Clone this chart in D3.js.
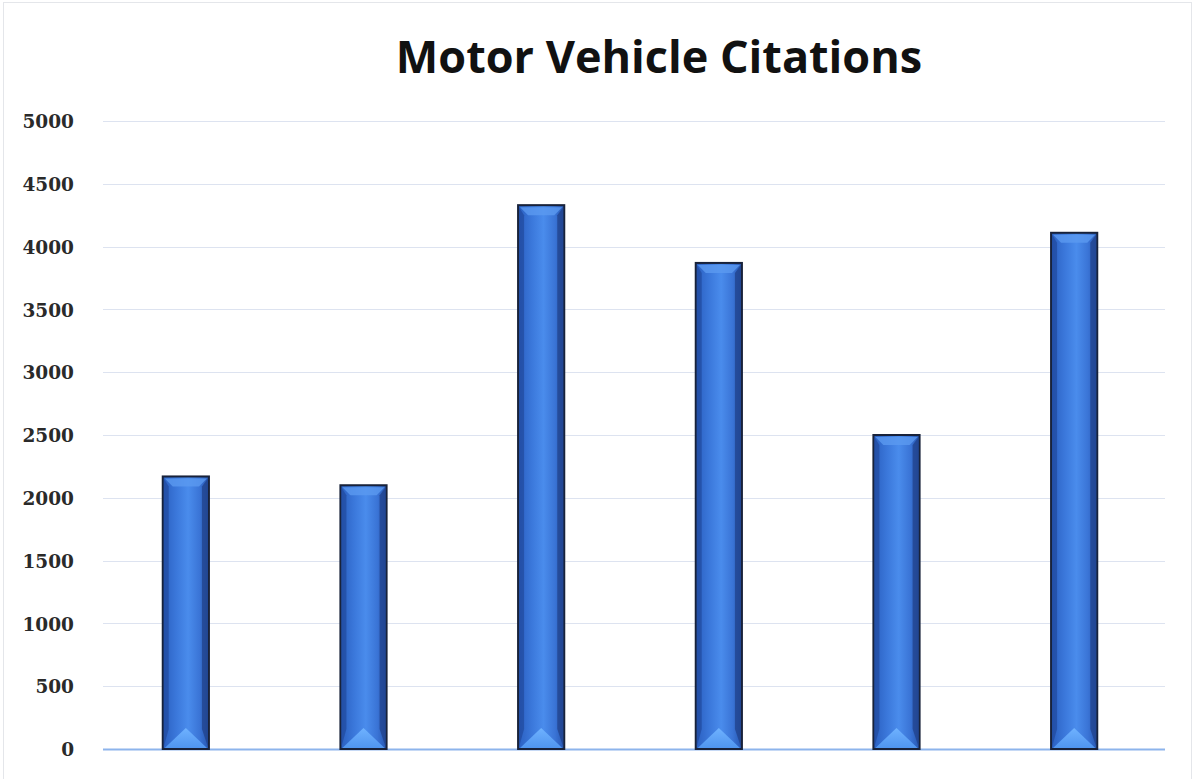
<!DOCTYPE html>
<html>
<head>
<meta charset="utf-8">
<script src="https://cdn.jsdelivr.net/npm/d3@7"></script>
<style>
  html, body { margin: 0; padding: 0; background: #fff; }
  svg { display: block; }
</style>
</head>
<body>
<svg id="chart" width="1192" height="779"></svg>
<script>
// Motor vehicle citations per period (category labels are not shown on the axis)
const categories = ["A", "B", "C", "D", "E", "F"];
const citations = [2170, 2100, 4330, 3870, 2500, 4110];
const yTicks = [0, 500, 1000, 1500, 2000, 2500, 3000, 3500, 4000, 4500, 5000];

const svg = d3.select("#chart");
const W = 1192, H = 779;
const margin = { left: 97, right: 29, top: 121, bottom: 30 };

// faint outer frame
svg.append("rect").attr("x", 3.5).attr("y", 2.5).attr("width", W - 4).attr("height", H)
  .attr("fill", "none").attr("stroke", "#e4e6ea").attr("stroke-width", 1);

const x = d3.scaleBand().domain(categories)
  .range([margin.left, W - margin.right]).paddingInner(0.74).paddingOuter(0.37);
const y = d3.scaleLinear().domain([0, 5000]).range([H - margin.bottom, margin.top]);

// gradients for the bevelled bars
const defs = svg.append("defs");
const g = defs.append("linearGradient").attr("id", "barFill").attr("x1", 0).attr("x2", 1).attr("y1", 0).attr("y2", 0);
g.append("stop").attr("offset", "0%").attr("stop-color", "#2a5fc0");
g.append("stop").attr("offset", "30%").attr("stop-color", "#3b78db");
g.append("stop").attr("offset", "55%").attr("stop-color", "#4a8cec");
g.append("stop").attr("offset", "80%").attr("stop-color", "#3a74d6");
g.append("stop").attr("offset", "100%").attr("stop-color", "#2656b0");
const gb = defs.append("linearGradient").attr("id", "baseFill").attr("x1", 0).attr("x2", 0).attr("y1", 0).attr("y2", 1);
gb.append("stop").attr("offset", "0%").attr("stop-color", "#6fb2ff");
gb.append("stop").attr("offset", "100%").attr("stop-color", "#4f95ef");

// horizontal gridlines
svg.append("g").selectAll("line").data(yTicks.filter(d => d > 0)).join("line")
  .attr("x1", margin.left + 6).attr("x2", W - margin.right + 2)
  .attr("y1", d => Math.round(y(d)) + 0.5).attr("y2", d => Math.round(y(d)) + 0.5)
  .attr("stroke", "#dde3f0").attr("stroke-width", 1);

// y-axis labels
const yAxis = d3.axisLeft(y).tickValues(yTicks).tickFormat(d3.format("d")).tickSize(0).tickPadding(0);
const ya = svg.append("g").attr("transform", `translate(74,0)`).call(yAxis);
ya.select(".domain").remove();
ya.selectAll("text")
  .attr("font-family", "'DejaVu Serif', 'Liberation Serif', serif")
  .attr("font-weight", "bold").attr("font-size", 18.5).attr("fill", "#2a2a2a")
  .attr("dy", "0.36em");

// baseline
svg.append("line")
  .attr("x1", margin.left + 6).attr("x2", W - margin.right + 2)
  .attr("y1", y(0) + 0.5).attr("y2", y(0) + 0.5)
  .attr("stroke", "#8db4ec").attr("stroke-width", 2);

// bars
const bars = svg.append("g").selectAll("g").data(categories.map((c, i) => ({ c, v: citations[i] }))).join("g");
bars.append("rect")
  .attr("x", d => x(d.c)).attr("y", d => y(d.v))
  .attr("width", x.bandwidth()).attr("height", d => y(0) - y(d.v))
  .attr("fill", "url(#barFill)").attr("stroke", "#18223a").attr("stroke-width", 2);
// inner bevel: light top edge
bars.append("path")
  .attr("d", d => {
    const x0 = x(d.c) + 2, x1 = x(d.c) + x.bandwidth() - 2, t = y(d.v) + 2, b = 8;
    return `M${x0},${t}L${x1},${t}L${x1 - b},${t + b}L${x0 + b},${t + b}Z`;
  })
  .attr("fill", "#5b9af0").attr("opacity", 0.8);
// inner bevel: right dark edge
bars.append("path")
  .attr("d", d => {
    const x1 = x(d.c) + x.bandwidth() - 1, t = y(d.v) + 2, bt = y(0) - 2, b = 6;
    return `M${x1},${t}L${x1},${bt}L${x1 - b},${bt - 18}L${x1 - b},${t + 8}Z`;
  })
  .attr("fill", "#1f3f86").attr("opacity", 0.7);
// inner bevel: left dark edge
bars.append("path")
  .attr("d", d => {
    const x0 = x(d.c) + 1, t = y(d.v) + 2, bt = y(0) - 2, b = 5;
    return `M${x0},${t}L${x0},${bt}L${x0 + b},${bt - 18}L${x0 + b},${t + 8}Z`;
  })
  .attr("fill", "#1e4596").attr("opacity", 0.6);
// bottom bevel triangle
bars.append("path")
  .attr("d", d => {
    const x0 = x(d.c) + 2, x1 = x(d.c) + x.bandwidth() - 2, bt = y(0) - 1;
    const cx = (x0 + x1) / 2;
    return `M${x0},${bt}L${cx},${bt - 20}L${x1},${bt}Z`;
  })
  .attr("fill", "url(#baseFill)");

// title
svg.append("text").attr("x", 659).attr("y", 73).attr("text-anchor", "middle")
  .attr("font-family", "'Open Sans', 'Noto Sans', sans-serif").attr("font-weight", "bold")
  .attr("font-size", 45).attr("fill", "#111")
  .text("Motor Vehicle Citations");
</script>
</body>
</html>
